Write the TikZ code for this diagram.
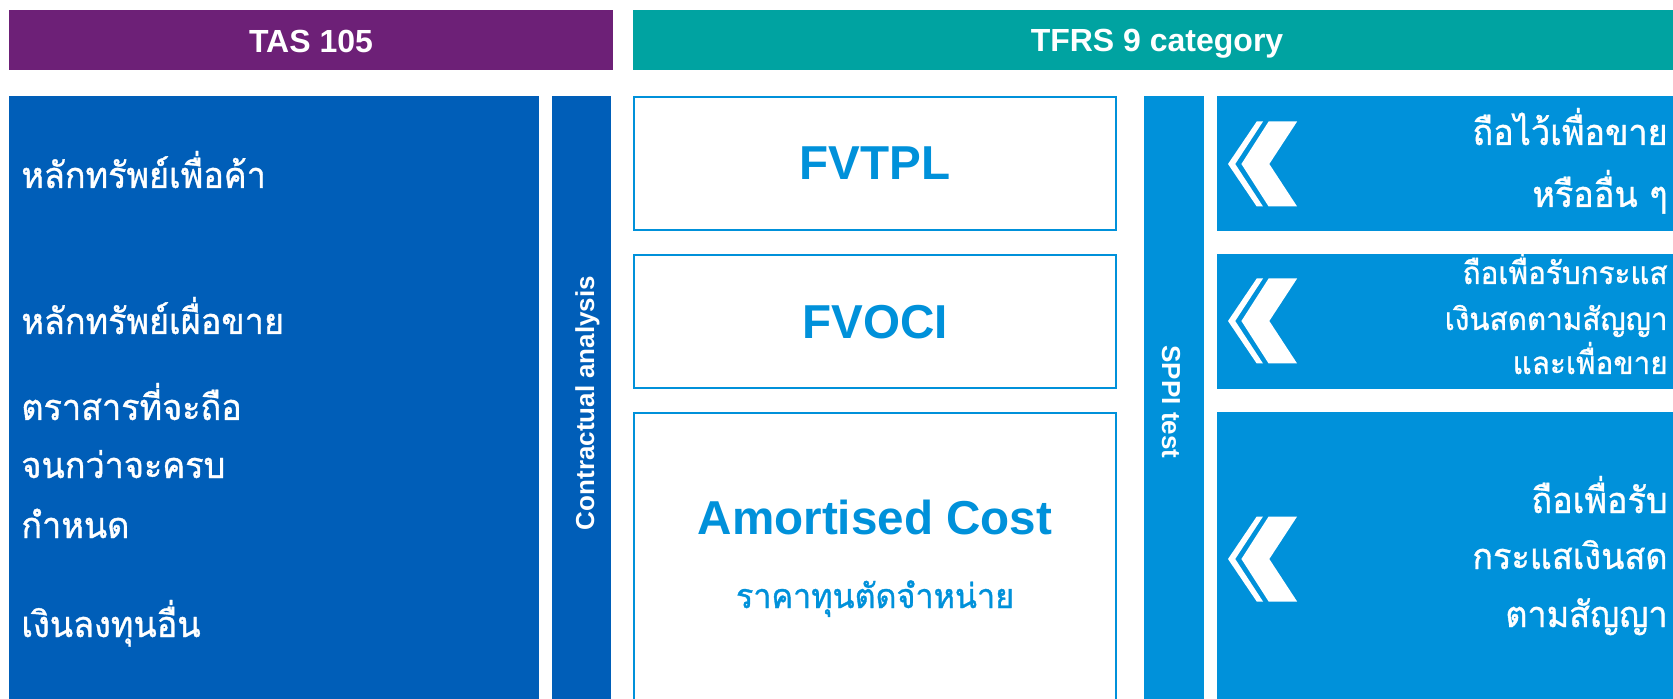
\documentclass[tikz,border=0pt]{standalone}
\usepackage{fontspec}
\setmainfont{Liberation Sans}
\newfontfamily\thaifont[Script=Thai, FakeBold=1.0, FakeStretch=0.95]{Loma}
\usetikzlibrary{fit}

\definecolor{tasPurple}{HTML}{6D2077}
\definecolor{tfrsTeal}{HTML}{00A3A1}
\definecolor{kpmgBlue}{HTML}{005EB8}
\definecolor{kpmgLight}{HTML}{0091DA}

\tikzset{
  band/.style={fill=#1, draw=none, inner sep=0pt},
  catbox/.style={draw=kpmgLight, line width=1pt, fill=white, inner sep=0pt},
  head/.style={text=white, font=\bfseries\fontsize{16}{19}\selectfont, anchor=base, inner sep=0pt},
  cattext/.style={text=kpmgLight, font=\bfseries\fontsize{23.8}{28}\selectfont, anchor=base, inner sep=0pt},
  striptext/.style={text=white, font=\bfseries\fontsize{13}{15}\selectfont, anchor=base, inner sep=0pt},
  thaiL/.style={text=white, font=\thaifont\fontsize{18}{22}\selectfont, anchor=base west, inner sep=0pt},
  thaiR/.style={text=white, font=\thaifont\fontsize{18}{22}\selectfont, anchor=base east, inner sep=0pt},
  thaiRs/.style={thaiR, font=\thaifont\fontsize{15.6}{19}\selectfont},
  thaiC/.style={text=kpmgLight, font=\thaifont\fontsize{17}{21}\selectfont, anchor=base, inner sep=0pt},
  chevrons/.pic={
    \fill[white] (28.7,-42.5) -- (35,-42.5) -- (7.2,0) -- (35,42.5) -- (28.7,42.5) -- (0,0) -- cycle;
    \fill[white] (40.6,-42.5) -- (69.1,-42.5) -- (41.3,0) -- (69.1,42.5) -- (40.6,42.5) -- (13.4,0) -- cycle;
  }
}

\begin{document}
\begin{tikzpicture}[x=0.5pt, y=-0.5pt]
  \clip (0,0) rectangle (1673,699);
  \fill[white] (0,0) rectangle (1673,699);

  % column headings
  \node[band=tasPurple, fit={(9,10) (613,70)}] (tas) {};
  \node[head] (tasT) at (311,53) {TAS 105};
  \node[band=tfrsTeal, fit={(633,10) (1690,70)}] (tfrs) {};
  \node[head] (tfrsT) at (1157,52) {TFRS 9 category};

  % TAS 105 categories
  \node[band=kpmgBlue, fit={(9,96) (539,720)}] (taslist) {};
  \node[thaiL] (trading)   at (21,188) {หลักทรัพย์เพื่อค้า};
  \node[thaiL] (afs)       at (21,334) {หลักทรัพย์เผื่อขาย};
  \node[thaiL] (htm1)      at (21,420) {ตราสารที่จะถือ};
  \node[thaiL] (htm2)      at (21,478) {จนกว่าจะครบ};
  \node[thaiL] (htm3)      at (21,538) {กำหนด};
  \node[thaiL] (other)     at (21,637) {เงินลงทุนอื่น};

  % contractual analysis strip
  \node[band=kpmgBlue, fit={(552,96) (611,720)}] (contract) {};
  \node[striptext, rotate=90] (contractT) at (594,403) {Contractual analysis};

  % TFRS 9 measurement categories
  \node[catbox, fit={(634,97) (1116,230)}] (fvtpl) {};
  \node[cattext] (fvtplT) at (875,180) {FVTPL};
  \node[catbox, fit={(634,255) (1116,388)}] (fvoci) {};
  \node[cattext] (fvociT) at (875,339) {FVOCI};
  \node[catbox, fit={(634,413) (1116,730)}] (ac) {};
  \node[cattext] (acT) at (875,534) {Amortised Cost};
  \node[thaiC] (acThai) at (875,608) {ราคาทุนตัดจำหน่าย};

  % SPPI test strip
  \node[band=kpmgLight, fit={(1144,96) (1204,720)}] (sppi) {};
  \node[striptext, rotate=-90] (sppiT) at (1162,402) {SPPI test};

  % business models
  \node[band=kpmgLight, fit={(1217,96) (1690,231)}] (bmsell) {};
  \node[band=kpmgLight, fit={(1217,254) (1690,389)}] (bmboth) {};
  \node[band=kpmgLight, fit={(1217,412) (1690,720)}] (bmcollect) {};

  \pic at (1228,164) {chevrons};
  \pic at (1228,321) {chevrons};
  \pic at (1228,559) {chevrons};

  \node[thaiR] (sell1) at (1668,145) {ถือไว้เพื่อขาย};
  \node[thaiR] (sell2) at (1668,207) {หรืออื่น ๆ};

  \node[thaiRs] (both1) at (1668,284) {ถือเพื่อรับกระแส};
  \node[thaiRs] (both2) at (1668,330) {เงินสดตามสัญญา};
  \node[thaiRs] (both3) at (1668,374) {และเพื่อขาย};

  \node[thaiR] (coll1) at (1668,513) {ถือเพื่อรับ};
  \node[thaiR] (coll2) at (1668,569) {กระแสเงินสด};
  \node[thaiR] (coll3) at (1668,627) {ตามสัญญา};
\end{tikzpicture}
\end{document}
